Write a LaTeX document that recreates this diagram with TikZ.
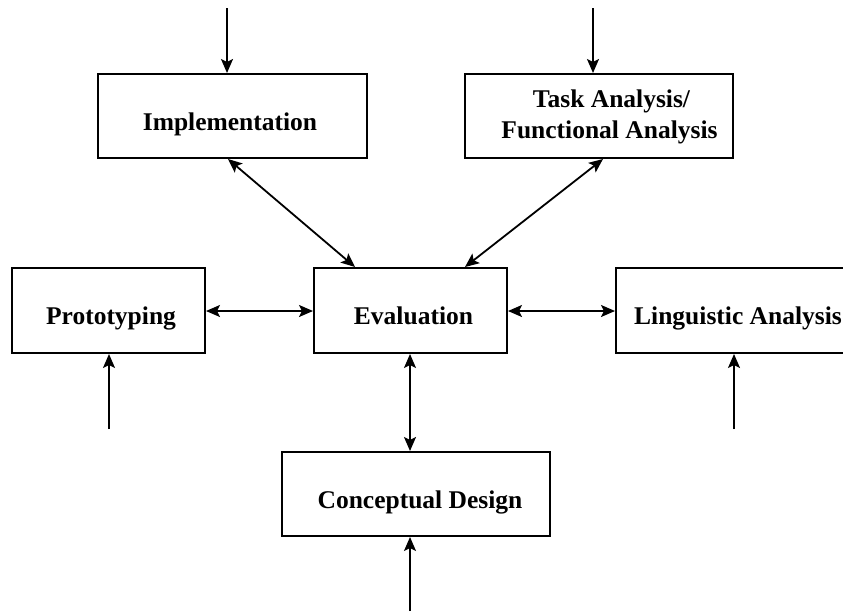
\documentclass[tikz,border=0pt]{standalone}
\usepackage{fontspec}
\setmainfont{Liberation Serif}
\usetikzlibrary{arrows.meta}
\begin{document}
\begin{tikzpicture}[x=1pt,y=-1pt,
  box/.style={draw,line width=2pt,inner sep=0pt,minimum height=84pt},
  lbl/.style={anchor=base,inner sep=0pt,font=\fontsize{25.5}{31}\selectfont\bfseries},
  arr/.style={line width=1.8pt,-{Stealth[length=14pt,width=12pt,inset=3pt]}},
  darr/.style={line width=1.8pt,{Stealth[length=14pt,width=12pt,inset=3pt]}-{Stealth[length=14pt,width=12pt,inset=3pt]}}]
\useasboundingbox (0,0) rectangle (843,611);
\clip (0,0) rectangle (843,611);
% boxes
\node[box,minimum width=269pt] (impl) at (232.5,116) {};
\node[box,minimum width=268pt] (task) at (599,116) {};
\node[box,minimum width=193pt,minimum height=85pt] (proto) at (108.5,310.5) {};
\node[box,minimum width=193pt,minimum height=85pt] (eval) at (410.5,310.5) {};
\node[box,minimum width=244pt,minimum height=85pt] (ling) at (738,310.5) {};
\node[box,minimum width=268pt] (conc) at (416,494) {};
% texts
\node[lbl] (implt) at (230,130) {Implementation};
\node[lbl] (taskt1) at (611.5,107.7) {Task Analysis/};
\node[lbl] (taskt2) at (609.5,138.7) {Functional Analysis};
\node[lbl] (protot) at (111,324.3) {Prototyping};
\node[lbl] (evalt) at (413.5,324.3) {Evaluation};
\node[lbl,anchor=base west] (lingt) at (634,324.3) {Linguistic Analysis};
\node[lbl] (conct) at (420,508.7) {Conceptual Design};
% free ends
\coordinate (implin) at (227,8);
\coordinate (taskin) at (593,8);
\coordinate (protoin) at (109,429);
\coordinate (lingin) at (734,429);
\coordinate (concin) at (410,611);
% connectors
\draw[arr] (implin) -- (implin |- impl.north);
\draw[arr] (taskin) -- (taskin |- task.north);
\draw[arr] (protoin) -- (protoin |- proto.south);
\draw[arr] (lingin) -- (lingin |- ling.south);
\draw[arr] (concin) -- (concin |- conc.south);
\draw[darr] ([xshift=-4.5pt]impl.south) -- ([xshift=-55.5pt]eval.north);
\draw[darr] ([xshift=4pt]task.south) -- ([xshift=54.5pt]eval.north);
\draw[darr] ([yshift=-0.5pt]proto.east) -- ([yshift=-0.5pt]eval.west);
\draw[darr] ([yshift=-0.5pt]eval.east) -- ([yshift=-0.5pt]ling.west);
\draw[darr] ([xshift=-0.5pt]eval.south) -- ([xshift=-0.5pt]eval.south |- conc.north);
\end{tikzpicture}
\end{document}
